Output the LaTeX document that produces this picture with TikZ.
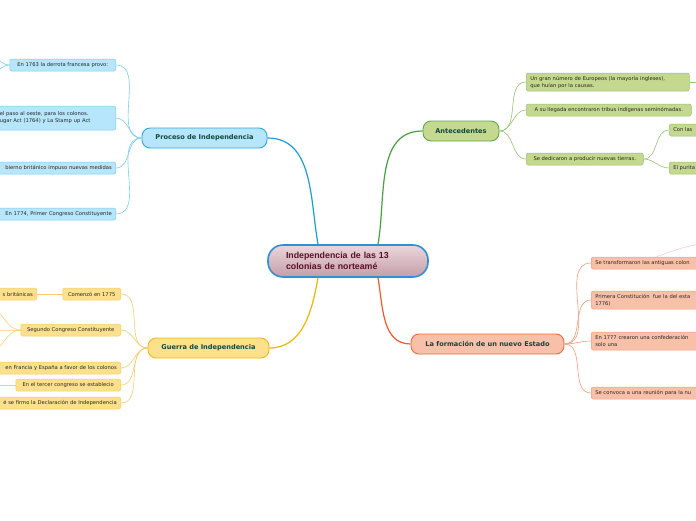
\documentclass[tikz,border=0pt]{standalone}
\usepackage{fontspec}
\setmainfont{DejaVu Sans}
\newfontfamily\hubfont{Liberation Sans}
\usetikzlibrary{positioning,shapes.misc}

\definecolor{hubBorde}{HTML}{2F8FD8}
\definecolor{hubArriba}{HTML}{EBD6DC}
\definecolor{hubAbajo}{HTML}{C49EA8}
\definecolor{hubTexto}{HTML}{5A1028}
\definecolor{ramaTexto}{HTML}{10483A}
\definecolor{hojaTexto}{HTML}{262626}
\definecolor{azulFondo}{HTML}{B6E6FB}
\definecolor{azulBorde}{HTML}{2BA6E2}
\definecolor{azulHoja}{HTML}{7ECCF0}
\definecolor{azulLinea}{HTML}{1A9DE0}
\definecolor{verdeFondo}{HTML}{C4D98F}
\definecolor{verdeBorde}{HTML}{5FA845}
\definecolor{verdeHoja}{HTML}{98C274}
\definecolor{verdeLinea}{HTML}{4AA040}
\definecolor{amarFondo}{HTML}{FDE08C}
\definecolor{amarBorde}{HTML}{F5B515}
\definecolor{amarHoja}{HTML}{F7CC6A}
\definecolor{amarLinea}{HTML}{F5B400}
\definecolor{naraFondo}{HTML}{F9C0A9}
\definecolor{naraBorde}{HTML}{EE6A3C}
\definecolor{naraHoja}{HTML}{F29C7E}
\definecolor{naraLinea}{HTML}{F05A28}
\definecolor{rosaLinea}{HTML}{F9CCD6}

\begin{document}
\begin{tikzpicture}[
			x=1pt, y=-1pt,
			hub/.style={draw=hubBorde, line width=1.6pt, rounded corners=15pt, top color=hubArriba, bottom color=hubAbajo, minimum width=160pt, minimum height=32pt, text width=124pt, inner xsep=18pt, align=left, font=\hubfont\fontsize{8.8}{10.4}\selectfont\bfseries, text=hubTexto},
			rama/.style={draw, line width=0.9pt, rounded corners=8pt, minimum height=20pt, inner sep=2pt, font=\fontsize{6.6}{7}\selectfont\bfseries, text=ramaTexto},
			hoja/.style={draw, line width=0.5pt, rounded corners=2pt, minimum height=12pt, inner xsep=4pt, inner ysep=1.5pt, font=\fontsize{5.2}{7}\selectfont, text=hojaTexto},
			hojaA/.style={hoja, fill=azulFondo, draw=azulHoja},
			hojaV/.style={hoja, fill=verdeFondo, draw=verdeHoja},
			hojaM/.style={hoja, fill=amarFondo, draw=amarHoja},
			hojaN/.style={hoja, fill=naraFondo, draw=naraHoja},
			rm/.style={line width=1.2pt},
			rh/.style={line width=0.6pt}
		]

		\useasboundingbox (0,0) rectangle (696,520);
		\clip (0,0) rectangle (696,520);

		% centro
		\node[hub] (centro) at (348,261) {Independencia de las 13\\colonias de norteamé};

		% ramas principales
		\node[rama, fill=azulFondo, draw=azulBorde, minimum width=125pt] (proceso) at (204.5,138) {Proceso de Independencia};
		\node[rama, fill=verdeFondo, draw=verdeBorde, minimum width=76pt] (antec) at (461,131) {Antecedentes};
		\node[rama, fill=amarFondo, draw=amarBorde, minimum width=121pt] (guerra) at (208.5,348) {Guerra de Independencia};
		\node[rama, fill=naraFondo, draw=naraBorde, minimum width=153pt] (estado) at (487.5,344) {La formación de un nuevo Estado};

		\draw[rm, azulLinea] (centro.north -| 318,0) to[out=100, in=0] (proceso.east);
		\draw[rm, verdeLinea] (centro.north -| 378,0) to[out=80, in=180] (antec.west);
		\draw[rm, amarLinea] (centro.south -| 318,0) to[out=260, in=0] (guerra.east);
		\draw[rm, naraLinea] (centro.south -| 378,0) to[out=280, in=180] (estado.west);

		% proceso de independencia
		\node[hojaA, anchor=east, minimum width=106pt] (p1) at (116,65) {En 1763 la derrota francesa provo:};
		\node[hojaA, anchor=east, text width=112pt, align=left, minimum height=24pt] (p2) at (116,118) {el paso al oeste, para los colonos.\\ugar Act (1764) y La Stamp up Act};
		\node[hojaA, anchor=east, text width=112pt, align=right] (p3) at (116,168) {bierno británico impuso nuevas medidas};
		\node[hojaA, anchor=east, text width=112pt, align=right] (p4) at (116,214) {En 1774, Primer Congreso Constituyente};
		\foreach \h in {p1,p2,p3,p4}
			\draw[rh, azulHoja] (proceso.west) to[out=180, in=0] (\h.east);
		\coordinate (p1a) at (-12,55);
		\coordinate (p1b) at (-12,75);
		\draw[rh, azulHoja] (p1.west) to[out=180, in=0] (p1a);
		\draw[rh, azulHoja] (p1.west) to[out=180, in=0] (p1b);

		% antecedentes
		\node[hojaV, anchor=west, minimum width=163pt, text width=155pt, align=left, minimum height=18pt] (a1) at (526,82) {Un gran número de Europeos (la mayoría ingleses),\\que huían por la causas.};
		\node[hojaV, anchor=west, minimum width=165pt] (a2) at (526,110) {A su llegada encontraron tribus indígenas seminómadas.};
		\node[hojaV, anchor=west, minimum width=117pt] (a3) at (526,159) {Se dedicaron a producir nuevas tierras.};
		\node[hojaV, anchor=west, text width=60pt, align=left] (a4) at (669,130) {Con las};
		\node[hojaV, anchor=west, text width=60pt, align=left] (a5) at (669,168) {El purita};
		\foreach \h in {a1,a2,a3}
			\draw[rh, verdeHoja] (antec.east) to[out=0, in=180] (\h.west);
		\draw[rh, verdeHoja] (a3.east) to[out=0, in=180] (a4.west);
		\draw[rh, verdeHoja] (a3.east) to[out=0, in=180] (a5.west);
		\coordinate (a1x) at (710,82);
		\draw[rh, verdeHoja] (a1.east) -- (a1x);

		% guerra de independencia
		\node[hojaM, anchor=east, minimum width=58pt] (g1) at (121,294) {Comenzó en 1775};
		\node[hojaM, anchor=east, text width=36pt, align=right] (g0) at (37,294) {s británicas};
		\node[hojaM, anchor=east, minimum width=100pt] (g2) at (121,330) {Segundo Congreso Constituyente};
		\node[hojaM, anchor=east, text width=117pt, align=right] (g3) at (121,368) {en Francia y España a favor de los colonos};
		\node[hojaM, anchor=east, minimum width=105pt] (g4) at (121,385) {En el tercer congreso se establecio};
		\node[hojaM, anchor=east, text width=117pt, align=right] (g5) at (121,403) {é se firmo la Declaración de Independencia};
		\foreach \h in {g1,g2,g3,g4,g5}
			\draw[rh, amarHoja] (guerra.west) to[out=180, in=0] (\h.east);
		\draw[rh, amarHoja] (g1.west) -- (g0.east);
		\coordinate (g2a) at (-12,308);
		\coordinate (g2b) at (-12,330);
		\coordinate (g2c) at (-12,352);
		\coordinate (g4a) at (-12,385);
		\foreach \c in {g2a,g2b,g2c}
			\draw[rh, amarHoja] (g2.west) to[out=180, in=0] (\c);
		\draw[rh, amarHoja] (g4.west) -- (g4a);

		% formacion de un nuevo estado
		\node[hojaN, anchor=west, text width=110pt, align=left] (f1) at (591,263) {Se transformaron las antiguas colon};
		\node[hojaN, anchor=west, text width=110pt, align=left, minimum height=18pt] (f2) at (591,300) {Primera Constitución\ \ fue la del esta\\1776)};
		\node[hojaN, anchor=west, text width=110pt, align=left, minimum height=18pt] (f3) at (591,341) {En 1777 crearon una confederación\\solo una};
		\node[hojaN, anchor=west, text width=110pt, align=left] (f4) at (591,393) {Se convoca a una reunión para la nu};
		\foreach \h in {f1,f2,f3,f4}
			\draw[rh, naraHoja] (estado.east) to[out=0, in=180] (\h.west);
		\coordinate (f1a) at (656,257);
		\coordinate (f1b) at (710,243);
		\draw[rh, rosaLinea] (f1a) to[out=20, in=185] (f1b);
	\end{tikzpicture}
\end{document}
